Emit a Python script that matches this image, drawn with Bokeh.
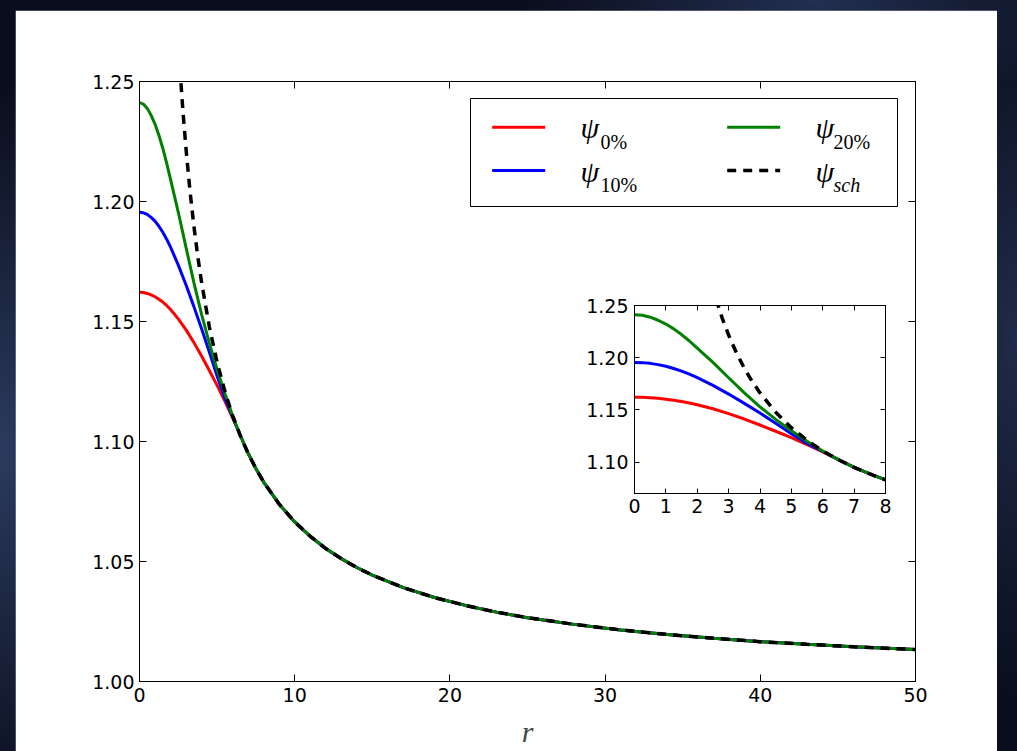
from bokeh.plotting import figure
from bokeh.models import (Range1d, FixedTicker, LinearAxis, CustomJSTickFormatter,
                          PrintfTickFormatter, Div)
from bokeh.layouts import column
from bokeh.core.properties import value
from bokeh.embed import file_html
from bokeh.resources import INLINE

# ---- data -------------------------------------------------------------
# inner region, where the three profiles differ
r_core = [0.0, 0.25, 0.5, 0.75, 1.0, 1.25, 1.5, 1.75, 2.0, 2.5, 3.0, 3.5,
          4.0, 4.5, 5.0, 5.5, 6.0, 6.5, 7.0, 7.5, 8.0]
psi_0 = [1.1622, 1.1621, 1.1617, 1.1611, 1.1603, 1.1593, 1.1581, 1.1567,
         1.1550, 1.1511, 1.1465, 1.1413, 1.1356, 1.1296, 1.1234, 1.1168,
         1.1098, 1.1025, 1.0951, 1.0887, 1.0831]
psi_10 = [1.1955, 1.1953, 1.1946, 1.1934, 1.1918, 1.1897, 1.1872, 1.1843,
          1.1810, 1.1735, 1.1652, 1.1563, 1.1470, 1.1373, 1.1273, 1.1180,
          1.1102, 1.1025, 1.0951, 1.0887, 1.0831]
psi_20 = [1.2412, 1.2406, 1.2388, 1.2359, 1.2322, 1.2276, 1.2222, 1.2160,
          1.2092, 1.1955, 1.1808, 1.1663, 1.1530, 1.1410, 1.1300, 1.1200,
          1.1107, 1.1024, 1.0951, 1.0887, 1.0831]

# Schwarzschild profile, inner part
r_sch_core = [2.6, 2.8, 3.0, 3.25, 3.5, 3.75, 4.0, 4.5, 5.0, 5.5, 6.0, 6.5,
              7.0, 7.5, 8.0]
psi_sch_core = [1.2560, 1.2375, 1.2217, 1.2046, 1.1900, 1.1773, 1.1663,
                1.1478, 1.1330, 1.1209, 1.1108, 1.1023, 1.0950, 1.0887, 1.0831]

# outer region: all profiles coincide
r_tail = [9, 10, 11, 12, 13, 14, 15, 17, 19, 21, 23, 25, 28, 31, 34, 37, 40,
          43, 46, 50]
psi_tail = [1.0739, 1.0665, 1.0605, 1.0554, 1.0512, 1.0475, 1.0443, 1.0391,
            1.0350, 1.0317, 1.0289, 1.0266, 1.0238, 1.0215, 1.0196, 1.0180,
            1.0166, 1.0155, 1.0145, 1.0133]

x_ticks_main = [0, 10, 20, 30, 40, 50]
y_ticks_main = [1.00, 1.05, 1.10, 1.15, 1.20, 1.25]
x_ticks_inset = [0, 1, 2, 3, 4, 5, 6, 7, 8]
y_ticks_inset = [1.10, 1.15, 1.20, 1.25]

series = [
    ("0%", psi_0, "#ff0000"),
    ("10%", psi_10, "#0000ff"),
    ("20%", psi_20, "#008000"),
]

r_full = r_core + r_tail
r_sch = r_sch_core + r_tail
psi_sch = psi_sch_core + psi_tail

TICK_FONT = "DejaVu Sans"
MATH_FONT = "Liberation Serif"
DASH = "9 7"


def style_axis(ax, size, tick_len, standoff):
    ax.major_tick_in = tick_len
    ax.major_tick_out = 0
    ax.minor_tick_line_color = None
    ax.axis_line_color = "black"
    ax.axis_line_width = 1
    ax.major_tick_line_color = "black"
    ax.major_tick_line_width = 1
    ax.major_label_text_font = TICK_FONT
    ax.major_label_text_font_size = size
    ax.major_label_text_color = "black"
    ax.major_label_standoff = standoff


def mirror_axes(fig, xt, yt, tick_len):
    blank = CustomJSTickFormatter(code="return ''")
    top = LinearAxis(ticker=FixedTicker(ticks=xt), formatter=blank)
    right = LinearAxis(ticker=FixedTicker(ticks=yt), formatter=blank)
    for ax in (top, right):
        style_axis(ax, "10px", tick_len, 0)
    fig.add_layout(top, "above")
    fig.add_layout(right, "right")


def draw_curves(fig, width):
    for _, psi, color in series:
        fig.line(r_full, psi + psi_tail, line_color=color, line_width=width)
    fig.line(r_sch, psi_sch, line_color="black", line_width=width + 0.5,
             line_dash=DASH)


# ---- main panel -------------------------------------------------------
p = figure(width=982, height=741, x_range=Range1d(0, 50),
           y_range=Range1d(1.0, 1.25), output_backend="svg",
           toolbar_location=None,
           min_border_left=124, min_border_right=82,
           min_border_top=71, min_border_bottom=70)
p.styles = {"position": "absolute", "left": "15px", "top": "10px"}
p.background_fill_color = "white"
p.border_fill_color = "white"
p.outline_line_color = "black"
p.outline_line_width = 1
p.xgrid.visible = False
p.ygrid.visible = False

xb = p.below[0]
yl = p.left[0]
xb.ticker = FixedTicker(ticks=x_ticks_main)
yl.ticker = FixedTicker(ticks=y_ticks_main)
yl.formatter = PrintfTickFormatter(format="%.2f")
style_axis(xb, "19px", 7, 6)
style_axis(yl, "19px", 7, 5)
xb.axis_label = "r"
xb.axis_label_text_font = MATH_FONT
xb.axis_label_text_font_style = "italic"
xb.axis_label_text_font_size = "30px"
xb.axis_label_standoff = 10
mirror_axes(p, x_ticks_main, y_ticks_main, 7)

draw_curves(p, 3)

# legend, laid out in frame pixel coordinates (origin at frame top-left)
p.extra_x_ranges = {"lg": Range1d(0, 776)}
p.extra_y_ranges = {"lg": Range1d(600, 0)}
p.quad(left=[331], right=[758], top=[17], bottom=[125], fill_color="white",
       line_color="black", line_width=1, x_range_name="lg", y_range_name="lg")

legend_rows = [
    (352.7, 45.7, "#ff0000", None, 441.0, 461.0, 46.0, "0%", "normal"),
    (352.7, 89.0, "#0000ff", None, 441.0, 461.0, 89.5, "10%", "normal"),
    (587.7, 45.7, "#008000", None, 676.0, 694.0, 46.0, "20%", "normal"),
    (587.7, 89.0, "black", DASH, 676.0, 694.0, 89.5, "sch", "italic"),
]
for lx, ly, color, dash, tx, sx, base, sub, sub_style in legend_rows:
    kw = dict(line_color=color, line_width=3, x_range_name="lg",
              y_range_name="lg")
    if dash:
        kw["line_dash"] = dash
        kw["line_width"] = 3.5
    p.line([lx, lx + 53], [ly, ly], **kw)
    p.text(x=[tx], y=[base], text=["ψ"], text_font=value(MATH_FONT),
           text_font_style="italic", text_font_size="30px",
           text_baseline="alphabetic", text_align="left", text_color="black",
           x_range_name="lg", y_range_name="lg")
    p.text(x=[sx], y=[base + 14], text=[sub], text_font=value(MATH_FONT),
           text_font_style=sub_style, text_font_size="20px",
           text_baseline="alphabetic", text_align="left", text_color="black",
           x_range_name="lg", y_range_name="lg")

# ---- inset: zoom on the inner region ----------------------------------
ins = figure(width=323, height=234, x_range=Range1d(0, 8),
             y_range=Range1d(1.07, 1.25), output_backend="svg",
             toolbar_location=None,
             min_border_left=60, min_border_right=12,
             min_border_top=14, min_border_bottom=32)
ins.styles = {"position": "absolute", "left": "574px", "top": "291px"}
ins.background_fill_color = "white"
ins.border_fill_alpha = 0
ins.outline_line_color = "black"
ins.outline_line_width = 1
ins.xgrid.visible = False
ins.ygrid.visible = False
ixb = ins.below[0]
iyl = ins.left[0]
ixb.ticker = FixedTicker(ticks=x_ticks_inset)
iyl.ticker = FixedTicker(ticks=y_ticks_inset)
iyl.formatter = PrintfTickFormatter(format="%.2f")
style_axis(ixb, "19px", 5, 5)
style_axis(iyl, "19px", 5, 6)
mirror_axes(ins, x_ticks_inset, y_ticks_inset, 5)
draw_curves(ins, 3)

# ---- page backdrop ----------------------------------------------------
backdrop = Div(text="", width=1017, height=751, margin=(0, 0, 0, 0),
               styles={"background":
                       "radial-gradient(ellipse 260px 520px at 0% 60%, rgba(70,95,150,0.55), rgba(0,0,0,0) 70%),"
                       "radial-gradient(ellipse 420px 160px at 80% 0%, rgba(55,75,125,0.55), rgba(0,0,0,0) 70%),"
                       "radial-gradient(ellipse 160px 520px at 100% 45%, rgba(60,80,130,0.45), rgba(0,0,0,0) 70%),"
                       "#0a0e1c"})

page = column(backdrop, p, spacing=0)
open("out.html", "w").write(file_html([page, ins], INLINE))
